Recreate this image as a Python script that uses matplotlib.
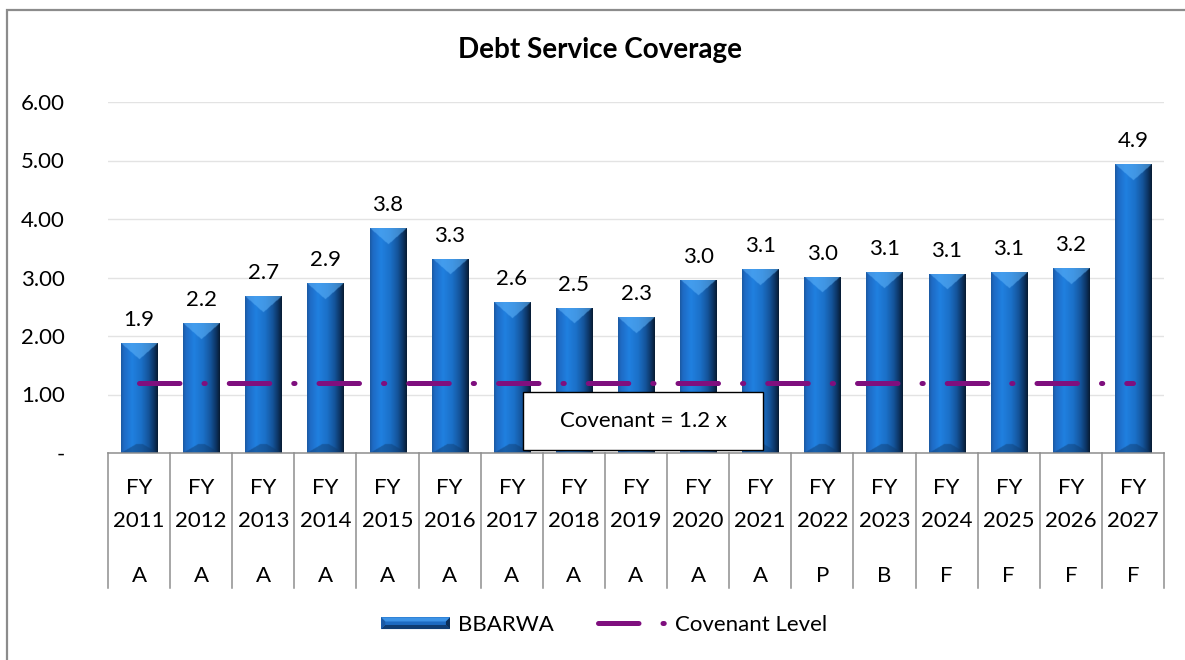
import numpy as np
import matplotlib
matplotlib.use("Agg")
import matplotlib.pyplot as plt
from matplotlib.patches import Rectangle, Polygon
from matplotlib.lines import Line2D
from matplotlib.legend_handler import HandlerBase
import matplotlib.colors as mcolors

# ---------------- data ----------------
years = ["2011", "2012", "2013", "2014", "2015", "2016", "2017", "2018", "2019",
         "2020", "2021", "2022", "2023", "2024", "2025", "2026", "2027"]
prefix = ["FY"] * len(years)
status = ["A", "A", "A", "A", "A", "A", "A", "A", "A", "A", "A", "P", "B", "F", "F", "F", "F"]
bbarwa = [1.88, 2.22, 2.68, 2.90, 3.84, 3.32, 2.58, 2.48, 2.32, 2.96, 3.14,
          3.01, 3.09, 3.06, 3.09, 3.16, 4.94]
covenant = [1.2] * len(years)
yticks = [0, 1, 2, 3, 4, 5, 6]
ytick_labels = ["-", "1.00", "2.00", "3.00", "4.00", "5.00", "6.00"]
title = "Debt Service Coverage"
series_name = "BBARWA"
covenant_name = "Covenant Level"
note = "Covenant = 1.2 x"

plt.rcParams['font.family'] = ['Lato', 'DejaVu Sans']
FS = 16

W, H = 1185, 660
fig = plt.figure(figsize=(W / 100, H / 100), dpi=100)
fig.patch.set_facecolor("white")

# outer chart border (top & left visible)
fig.patches.append(Rectangle((7 / W, -0.1), 1.2, 1 - 10 / H + 0.1, transform=fig.transFigure,
                             fill=False, edgecolor="#8c8c8c", linewidth=1.6, zorder=0))

ax_l, ax_r, ax_t, ax_b = 108, 1164, 102, 453
ax = fig.add_axes([ax_l / W, 1 - ax_b / H, (ax_r - ax_l) / W, (ax_b - ax_t) / H])
n = len(years)
x = np.arange(n)
ax.set_xlim(-0.5, n - 0.5)
ax.set_ylim(0, 6)

for s in ["top", "right", "left"]:
    ax.spines[s].set_visible(False)
ax.spines["bottom"].set_color("#8e8e8e")
ax.spines["bottom"].set_linewidth(1.1)
ax.set_yticks(yticks)
ax.set_yticklabels(ytick_labels, fontsize=FS)
ax.tick_params(axis="y", length=0, pad=31)
ax.set_xticks([])
ax.yaxis.grid(True, color="#e3e3e3", linewidth=1.0)
ax.set_axisbelow(True)

# ---------------- bars with bevel gradient ----------------
bars = ax.bar(x, bbarwa, width=0.58, color="#1f6fc5", zorder=2, linewidth=0)

prof_pos = [0.0, 0.08, 0.3, 0.55, 0.75, 0.9, 1.0]
prof_col = ["#1b58a0", "#1e6ac4", "#2080e0", "#1b70c8", "#14549a", "#0c3361", "#071a30"]
prof_rgb = np.array([mcolors.to_rgb(c) for c in prof_col])
light = np.array(mcolors.to_rgb("#5ab0f8"))
dark = np.array(mcolors.to_rgb("#0f3a6c"))

px_per_x = (ax_r - ax_l) / n
px_per_y = (ax_b - ax_t) / 6.0

for b in bars:
    x0, w, h = b.get_x(), b.get_width(), b.get_height()
    wpx, hpx = w * px_per_x, h * px_per_y
    nx, ny = int(round(wpx)) * 2, int(round(hpx)) * 2
    u = (np.arange(nx) + 0.5) / nx
    prof = np.stack([np.interp(u, prof_pos, prof_rgb[:, k]) for k in range(3)], axis=1)
    img = np.tile(prof[None, :, :], (ny, 1, 1))
    yy = (np.arange(ny) + 0.5) / ny * hpx
    xx = u * wpx
    dside = np.minimum(xx, wpx - xx)
    Bv = 9.0
    top = (yy[:, None] < dside[None, :] * 0.9) & (yy[:, None] < 16)
    bot = ((hpx - yy)[:, None] < dside[None, :] * 0.6) & ((hpx - yy)[:, None] < Bv)
    img[top] = img[top] * 0.4 + light * 0.6
    img[bot] = img[bot] * 0.55 + dark * 0.45
    im = ax.imshow(img, extent=[x0, x0 + w, 0, h], origin="upper", aspect="auto",
                   zorder=2.1, interpolation="bilinear")
    im.set_clip_path(b)
    ax.text(b.get_x() + w / 2, h + 13 / px_per_y, f"{h:.1f}", ha="center", va="bottom",
            fontsize=FS, zorder=5)

ax.set_xlim(-0.5, n - 0.5)
ax.set_ylim(0, 6)

# ---------------- covenant line ----------------
lw = 3.6
dash = (0, (8.1, 4.8, 0.25, 4.8))
ax.plot(x, covenant, color="#7f0f7e", linewidth=lw, linestyle=dash,
        dash_capstyle="round", zorder=3)

# ---------------- note box ----------------
bx0, bx1, by0, by1 = 523, 763, 392, 450
ax.add_patch(Rectangle(((bx0 - ax_l) / (ax_r - ax_l), (ax_b - by1) / (ax_b - ax_t)),
                       (bx1 - bx0) / (ax_r - ax_l), (by1 - by0) / (ax_b - ax_t),
                       transform=ax.transAxes, facecolor="white", edgecolor="black",
                       linewidth=1.0, zorder=6, clip_on=False))
ax.text(((bx0 + bx1) / 2 - ax_l) / (ax_r - ax_l), (ax_b - (by0 + by1) / 2) / (ax_b - ax_t),
        note, transform=ax.transAxes, ha="center", va="center", fontsize=FS, zorder=7)

# ---------------- multi-level category axis ----------------
trans = ax.get_xaxis_transform()
ah = ax_b - ax_t
def yfrac(py):
    return (ax_b - py) / ah
for xb in np.arange(n + 1) - 0.5:
    ax.plot([xb, xb], [0, yfrac(588)], transform=trans, color="#8e8e8e",
            linewidth=1.1, clip_on=False, zorder=1)
for i in range(n):
    ax.text(x[i], yfrac(488), prefix[i], transform=trans, ha="center", va="center", fontsize=FS)
    ax.text(x[i], yfrac(521), years[i], transform=trans, ha="center", va="center", fontsize=FS)
    ax.text(x[i], yfrac(576), status[i], transform=trans, ha="center", va="center", fontsize=FS)

# ---------------- title ----------------
fig.text(600 / W, 1 - 50 / H, title, ha="center", va="center", fontsize=20, fontweight="bold")

# ---------------- legend ----------------
class BevelHandler(HandlerBase):
    def create_artists(self, legend, orig_handle, xdescent, ydescent, width, height, fontsize, trans):
        x0, y0 = -xdescent, -ydescent
        hh = height * 0.75
        y0 = y0 + (height - hh) / 2
        e = hh * 0.35
        arts = [
            Rectangle((x0, y0), width, hh, facecolor="#1d6bc2", edgecolor="none", transform=trans),
            Polygon([[x0, y0 + hh], [x0 + width, y0 + hh], [x0 + width - e, y0 + hh - e], [x0 + e, y0 + hh - e]],
                    facecolor="#3d93e6", edgecolor="none", transform=trans),
            Polygon([[x0, y0], [x0 + width, y0], [x0 + width - e, y0 + e], [x0 + e, y0 + e]],
                    facecolor="#0f3d73", edgecolor="none", transform=trans),
            Polygon([[x0 + width, y0], [x0 + width, y0 + hh], [x0 + width - e, y0 + hh - e], [x0 + width - e, y0 + e]],
                    facecolor="#0c2f58", edgecolor="none", transform=trans),
            Polygon([[x0, y0], [x0, y0 + hh], [x0 + e, y0 + hh - e], [x0 + e, y0 + e]],
                    facecolor="#1a5aa6", edgecolor="none", transform=trans),
        ]
        return arts

bar_handle = Rectangle((0, 0), 1, 1)
line_handle = Line2D([], [], color="#7f0f7e", linewidth=lw, linestyle=dash, dash_capstyle="round")
fig.legend([bar_handle, line_handle], [series_name, covenant_name],
           handler_map={Rectangle: BevelHandler()},
           loc="center", bbox_to_anchor=(604 / W, 1 - 625 / H), ncol=2, frameon=False,
           fontsize=FS, handlelength=3.1, handletextpad=0.35, columnspacing=2.0)

fig.savefig("out.png", dpi=100, facecolor="white")
